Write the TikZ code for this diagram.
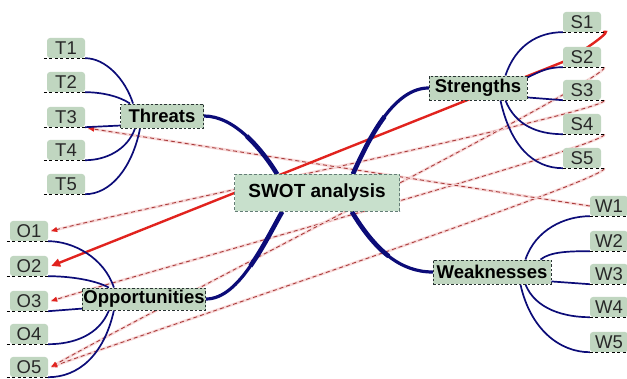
\documentclass[tikz,border=0pt]{standalone}
\usepackage{fontspec}
\setmainfont{Liberation Sans}
\usetikzlibrary{arrows.meta,calc,backgrounds}
\definecolor{navy}{RGB}{12,12,120}
\definecolor{leafgreen}{RGB}{192,214,192}
\definecolor{swotgreen}{RGB}{200,224,204}
\definecolor{redline}{RGB}{225,35,30}
\definecolor{reldash}{RGB}{170,60,60}
\definecolor{relhalo}{RGB}{248,218,218}
\definecolor{leaftext}{RGB}{40,40,40}
\definecolor{boxborder}{RGB}{40,50,50}
\definecolor{swotborder}{RGB}{100,125,118}
\begin{document}
\begin{tikzpicture}[x=1pt,y=-1pt,
  leaf/.style={fill=leafgreen, rounded corners=3pt, minimum width=38pt, minimum height=20pt,
    inner sep=0pt, text=leaftext, font=\fontsize{18.5}{18.5}\selectfont},
  branch/.style={fill=leafgreen, draw=boxborder, dash pattern=on 2.5pt off 2pt, line width=0.9pt,
    inner xsep=1pt, inner ysep=0pt, minimum height=24pt, font=\bfseries\fontsize{18.5}{20}\selectfont},
  swot/.style={fill=swotgreen, draw=swotborder, dash pattern=on 3pt off 2pt, line width=0.8pt,
    minimum width=165pt, minimum height=37pt, inner sep=0pt, font=\bfseries\fontsize{19}{20}\selectfont},
  uline/.style={draw=black, line width=0.8pt, dash pattern=on 3pt off 2.5pt},
  trunk/.style={draw=navy, line width=3.2pt, line cap=round},
  trunkthick/.style={draw=navy, line width=4.6pt, line cap=butt},
  twig/.style={draw=navy, line width=1.7pt},
  halo/.style={draw=relhalo, line width=2.8pt},
  reldashed/.style={draw=reldash, line width=0.9pt, dash pattern=on 4pt off 3pt,
    -{Triangle[length=6pt,width=5pt,color=redline]}},
  relsolid/.style={draw=redline, line width=2.4pt, -{Triangle[length=9pt,width=8pt]}}
]
\useasboundingbox (0,0) rectangle (627,379);

% central and branch nodes
\node[swot] (SWOT) at (317,193) {SWOT analysis};
\node[branch, minimum width=83pt] (Threats) at (162,116) {Threats};
\node[branch, minimum width=98pt] (Strengths) at (478,88) {Strengths};
\node[branch, minimum width=122pt, minimum height=22pt] (Opp) at (144,299) {Opportunities};
\node[branch, minimum width=118pt] (Weak) at (492,272) {Weaknesses};

% leaves
\node[leaf] (T1) at (66,48) {T1};
\node[leaf] (T2) at (66,82) {T2};
\node[leaf] (T3) at (66,117) {T3};
\node[leaf] (T4) at (66,150) {T4};
\node[leaf] (T5) at (66,184) {T5};
\node[leaf] (S1) at (582,22) {S1};
\node[leaf] (S2) at (582,57) {S2};
\node[leaf] (S3) at (582,90) {S3};
\node[leaf] (S4) at (582,124) {S4};
\node[leaf] (S5) at (582,158) {S5};
\node[leaf] (O1) at (29,231) {O1};
\node[leaf] (O2) at (29,266) {O2};
\node[leaf] (O3) at (29,301) {O3};
\node[leaf] (O4) at (29,334) {O4};
\node[leaf] (O5) at (29,367) {O5};
\node[leaf] (W1) at (609,206) {W1};
\node[leaf] (W2) at (609,241) {W2};
\node[leaf] (W3) at (609,274) {W3};
\node[leaf] (W4) at (609,307) {W4};
\node[leaf] (W5) at (609,342) {W5};

% underlines
\foreach \n in {T1,T2,T3,T4,T5,O1,O2,O3,O4,O5}
  \draw[uline] ($(\n.south west)+(-3,0)$) -- (\n.south east);
\foreach \n in {S1,S2,S3,S4,S5,W1,W2,W3,W4,W5}
  \draw[uline] (\n.south west) -- ($(\n.south east)+(3,0)$);

\begin{pgfonlayer}{background}
\fill[white] (0,0) rectangle (627,379);

% relationships (dashed)
\foreach \s/\o/\dy in {S3/O1/-20, S4/O3/-24, S5/O5/-28, S2/O5/-45} {
  \draw[halo] ($(\s.south east)+(3,0)$) .. controls ($(\s.south east)+(12,10)$) and ($(\o.east)+(80,\dy)$) .. ($(\o.east)+(3,0)$);
  \draw[reldashed] ($(\s.south east)+(3,0)$) .. controls ($(\s.south east)+(12,10)$) and ($(\o.east)+(80,\dy)$) .. ($(\o.east)+(3,0)$);
}
\draw[halo] (W1.west) .. controls ($(W1.west)+(-60,-9)$) and ($(T3.south east)+(60,10)$) .. ($(T3.south east)+(3,1)$);
\draw[reldashed] (W1.west) .. controls ($(W1.west)+(-60,-9)$) and ($(T3.south east)+(60,10)$) .. ($(T3.south east)+(3,1)$);

% relationship (solid red)
\draw[relsolid] ($(S1.south east)+(2,0)$) .. controls ($(S1.south east)+(14,-4)$) and ($(S2.west)+(22,-6)$) .. ($(S2.west)+(0,5)$) -- ($(O2.east)+(3,0)$);

% trunk (thin full curves)
\draw[trunk] (Threats.east) .. controls (235,116) and (262,150) .. ($(SWOT.north west)+(43,0)$);
\draw[trunk] ($(SWOT.north east)+(-47,0)$) .. controls (370,135) and (395,88) .. (Strengths.west);
\draw[trunk] (Opp.east) .. controls (240,299) and (265,240) .. ($(SWOT.south west)+(48,0)$);
\draw[trunk] ($(SWOT.south east)+(-48,0)$) .. controls (375,250) and (400,272) .. (Weak.west);
% trunk thickening near the centre
\draw[trunkthick] (246.6,136.1) .. controls (259.25,147.75) and (270,162.5) .. ($(SWOT.north west)+(43,0)$);
\draw[trunkthick] ($(SWOT.north east)+(-47,0)$) .. controls (361.5,155) and (372,133.25) .. (384.6,116.5);
\draw[trunkthick] (250.4,266) .. controls (263.25,247.75) and (274,226) .. ($(SWOT.south west)+(48,0)$);
\draw[trunkthick] ($(SWOT.south east)+(-48,0)$) .. controls (363.5,231) and (375.5,246) .. (388.75,256.25);

% twigs: threats
\draw[twig] ($(Threats.north west)+(13,0)$) .. controls +(-8,-25) and +(20,0) .. (T1.south east);
\draw[twig] ($(Threats.north west)+(10,0)$) .. controls +(-12,-8) and +(15,0) .. (T2.south east);
\draw[twig] ($(Threats.south west)+(2,-3)$) -- (T3.south east);
\draw[twig] ($(Threats.south west)+(15,0)$) .. controls +(-8,22) and +(20,0) .. (T4.south east);
\draw[twig] ($(Threats.south west)+(20,0)$) .. controls +(-8,40) and +(25,0) .. (T5.south east);
% strengths
\draw[twig] ($(Strengths.north east)+(-22,0)$) .. controls +(10,-30) and +(-25,0) .. (S1.south west);
\draw[twig] ($(Strengths.north east)+(0,2)$) .. controls +(12,-6) and +(-15,0) .. (S2.south west);
\draw[twig] ($(Strengths.south east)+(0,-3)$) -- (S3.south west);
\draw[twig] ($(Strengths.south east)+(-22,0)$) .. controls +(10,25) and +(-25,0) .. (S4.south west);
\draw[twig] ($(Strengths.south east)+(-27,0)$) .. controls +(10,45) and +(-30,0) .. (S5.south west);
% weaknesses
\draw[twig] ($(Weak.north east)+(-26,0)$) .. controls +(10,-30) and +(-25,0) .. (W1.south west);
\draw[twig] ($(Weak.north east)+(-11,0)$) .. controls +(10,-8) and +(-20,0) .. (W2.south west);
\draw[twig] ($(Weak.south east)+(0,-3)$) -- (W3.south west);
\draw[twig] ($(Weak.south east)+(-26,0)$) .. controls +(10,25) and +(-25,0) .. (W4.south west);
\draw[twig] ($(Weak.south east)+(-31,0)$) .. controls +(10,45) and +(-30,0) .. (W5.south west);
% opportunities
\draw[twig] ($(Opp.north west)+(32,0)$) .. controls +(-10,-30) and +(25,0) .. (O1.south east);
\draw[twig] ($(Opp.north west)+(27,0)$) .. controls +(-15,-8) and +(20,0) .. (O2.south east);
\draw[twig] ($(Opp.south west)+(2,-2)$) -- (O3.south east);
\draw[twig] ($(Opp.south west)+(27,0)$) .. controls +(-10,25) and +(25,0) .. (O4.south east);
\draw[twig] ($(Opp.south west)+(32,0)$) .. controls +(-10,45) and +(30,0) .. (O5.south east);
\end{pgfonlayer}
\end{tikzpicture}
\end{document}
